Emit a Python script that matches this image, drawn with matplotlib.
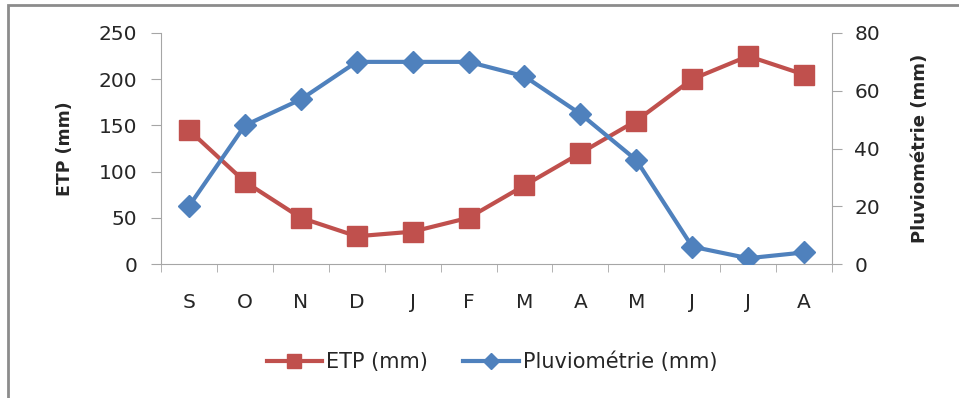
import numpy as np
import matplotlib
matplotlib.use("Agg")
import matplotlib.pyplot as plt
from matplotlib.patches import Rectangle
from matplotlib.lines import Line2D

plt.rcParams['font.family'] = ['DejaVu Sans']

months = ["S", "O", "N", "D", "J", "F", "M", "A", "M", "J", "J", "A"]
etp = [145, 89, 50, 30, 35, 50, 85, 120, 155, 200, 225, 205]
pluvio = [20, 48, 57, 70, 70, 70, 65, 52, 36, 6, 2, 4]

RED = "#c0504d"
BLUE = "#4f81bd"
GREY = "#a6a6a6"
TXT = "#262626"

fig = plt.figure(figsize=(9.59, 3.98), dpi=100)
ax = fig.add_axes([161/959, 1 - 264/398, (832 - 161)/959, (264 - 33)/398])
ax2 = ax.twinx()

x = np.arange(len(months))
ax.plot(x, etp, color=RED, lw=3, marker='s', ms=14, zorder=3)
ax2.plot(x, pluvio, color=BLUE, lw=3, marker='D', ms=11.5, zorder=3)

ax.set_xlim(-0.5, len(months) - 0.5)
ax.set_ylim(0, 250)
ax2.set_ylim(0, 80)
ax.set_yticks(np.arange(0, 251, 50))
ax2.set_yticks(np.arange(0, 81, 20))
ax.set_xticks(x)
ax.set_xticklabels(months)
ax.set_xticks(np.arange(-0.5, len(months), 1), minor=True)
ax.tick_params(axis='x', which='major', length=0, pad=21, labelsize=14.5, labelcolor=TXT)
ax.tick_params(axis='x', which='minor', length=6, color=GREY)
ax.tick_params(axis='y', length=7, color=GREY, labelsize=14.5, pad=10, labelcolor=TXT)
ax2.tick_params(axis='y', length=7, color=GREY, labelsize=14.5, pad=9, labelcolor=TXT)

for a in (ax, ax2):
    a.spines['top'].set_visible(False)
    for s in ('left', 'right', 'bottom'):
        a.spines[s].set_color(GREY)
ax.spines['right'].set_visible(False)
ax2.spines['left'].set_visible(False)
ax2.spines['bottom'].set_visible(False)

ax.set_ylabel("ETP (mm)", fontsize=12.5, fontweight='bold', labelpad=18, color=TXT)
ax2.set_ylabel("Pluviométrie (mm)", fontsize=13, fontweight='bold', labelpad=22, color=TXT)

h1 = Line2D([], [], color=RED, lw=3, marker='s', ms=10.5)
h2 = Line2D([], [], color=BLUE, lw=3, marker='D', ms=8.5)
fig.legend([h1, h2], ["ETP (mm)", "Pluviométrie (mm)"], loc='center',
           bbox_to_anchor=(492/959, 1 - 362/398), ncol=2, frameon=False,
           fontsize=15, handlelength=2.65, columnspacing=1.7, handletextpad=0.2,
           labelcolor=TXT)

fig.patches.append(Rectangle((8/959, -0.1), 1.2, 1 - 5/398 + 0.1, transform=fig.transFigure,
                             fill=False, edgecolor="#8c8c8c", lw=2))

fig.savefig("out.png", dpi=100)
